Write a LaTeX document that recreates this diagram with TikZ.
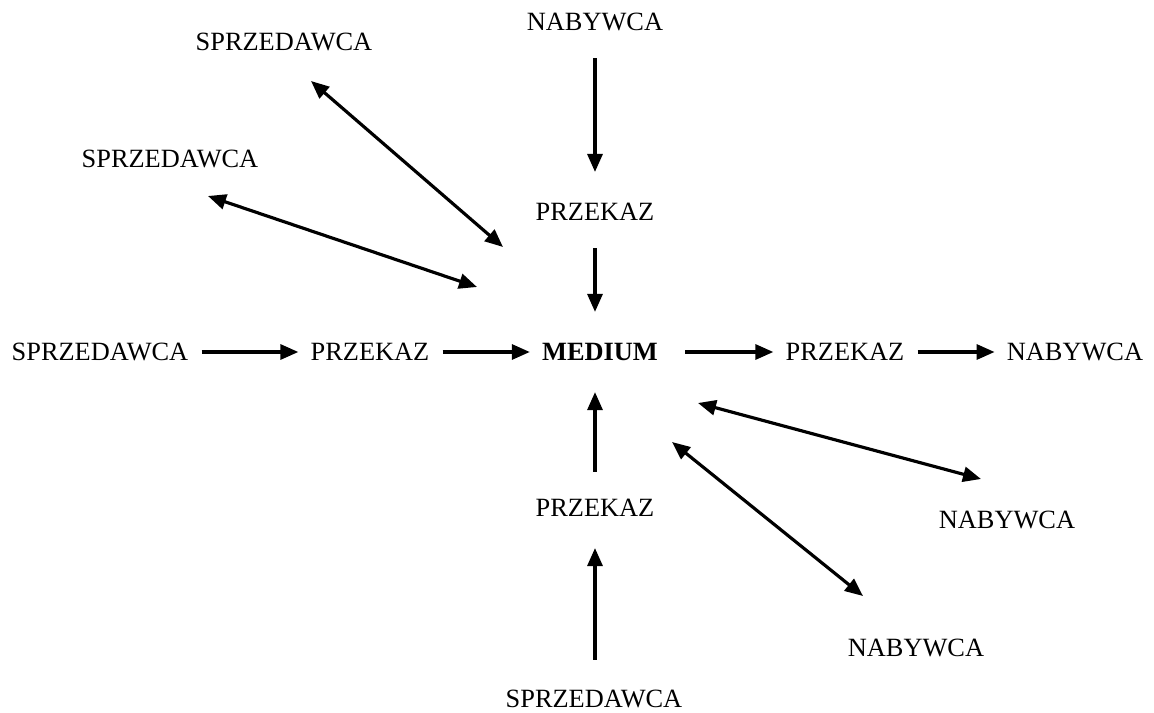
\documentclass[tikz,border=0pt]{standalone}
\usepackage{fontspec}
\setmainfont{Liberation Serif}
\usetikzlibrary{arrows.meta,calc}

\begin{document}
\begin{tikzpicture}[x=0.02cm,y=-0.02cm,
    lbl/.style={inner sep=0pt,font=\fontsize{15}{18}\selectfont},
    tip/.tip={Triangle[length=0.36cm,width=0.3cm]},
    flow/.style={-tip,line width=1.8pt},
    both/.style={tip-tip,line width=1.8pt},
    hflow/.style={flow,shorten <=0.26cm,shorten >=0.24cm},
    vflow/.style={flow,shorten <=0.54cm,shorten >=0.62cm}]
  \useasboundingbox (0,0) rectangle (1154,713);
  % centre and the four straight chains
  \node[lbl,font=\fontsize{15}{18}\selectfont\bfseries] (medium) at (600,352) {MEDIUM};
  \node[lbl] (sprzL) at (100,352) {SPRZEDAWCA};
  \node[lbl] (przL) at (370,352) {PRZEKAZ};
  \node[lbl] (przR) at (845,352) {PRZEKAZ};
  \node[lbl] (nabR) at (1075,352) {NABYWCA};
  \node[lbl] (nabT) at (595,22) {NABYWCA};
  \node[lbl] (przT) at (595,212) {PRZEKAZ};
  \node[lbl] (przB) at (595,508) {PRZEKAZ};
  \node[lbl] (sprzB) at (594,699) {SPRZEDAWCA};
  % side partners
  \node[lbl] (sprz1) at (284,42) {SPRZEDAWCA};
  \node[lbl] (sprz2) at (170,159) {SPRZEDAWCA};
  \node[lbl] (nab1) at (1007,520) {NABYWCA};
  \node[lbl] (nab2) at (916,648) {NABYWCA};
  \draw[hflow] (sprzL) -- (przL);
  \draw[hflow] (przL) -- (medium);
  \draw[hflow,shorten <=0.54cm] (medium) -- (przR);
  \draw[hflow] (przR) -- (nabR);
  \draw[vflow] (nabT) -- (przT);
  \draw[vflow] (przT.south) -- (przT.south |- medium.north);
  \draw[vflow,shorten <=0.6cm] (sprzB.north -| przB) -- (przB);
  \draw[vflow] (przB.north) -- (przB.north |- medium.south);
  % two-way links
  \draw[both] ($(sprz1)+(27,39)$) -- ($(medium)+(-97,-105)$);
  \draw[both] ($(sprz2)+(38,37)$) -- ($(medium)+(-123,-65)$);
  \draw[both] ($(medium)+(98,51)$) -- ($(nab1)+(-26,-41)$);
  \draw[both] ($(medium)+(72,90)$) -- ($(nab2)+(-53,-52)$);
\end{tikzpicture}
\end{document}
